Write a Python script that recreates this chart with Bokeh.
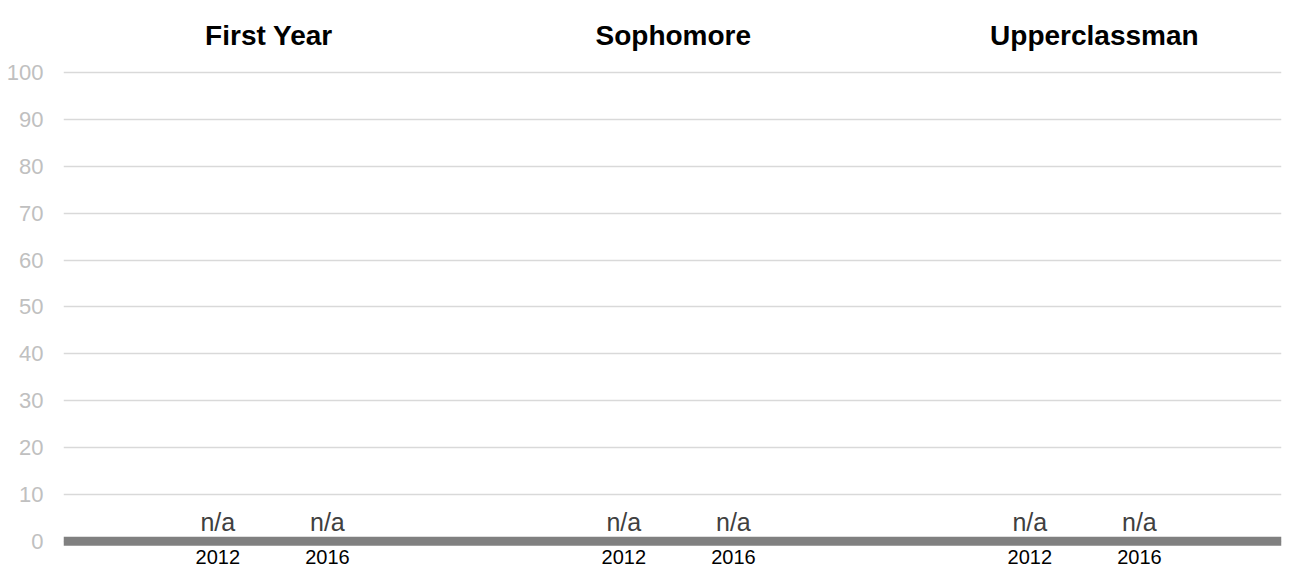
from bokeh.plotting import figure
from bokeh.models import Range1d, FixedTicker, Span
from bokeh.core.properties import value
from bokeh.embed import file_html
from bokeh.resources import INLINE

# ---- data ----
groups = ["First Year", "Sophomore", "Upperclassman"]
years = ["2012", "2016"]
values = [[None, None], [None, None], [None, None]]   # no data -> "n/a"
y_ticks = [0, 10, 20, 30, 40, 50, 60, 70, 80, 90, 100]

# ---- layout helpers (positions within each panel, panel width = 1) ----
year_offsets = [0.38, 0.65]
title_offsets = [0.506, 0.502, 0.539]

lab_x, lab_text, lab_y = [], [], []
yr_x, yr_text = [], []
for gi, g in enumerate(groups):
    for yi, yr in enumerate(years):
        x = gi + year_offsets[yi]
        v = values[gi][yi]
        lab_x.append(x)
        lab_text.append("n/a" if v is None else f"{v}")
        lab_y.append(4.05 if v is None else v + 1)
        yr_x.append(x)
        yr_text.append(yr)

title_x = [gi + title_offsets[gi] for gi in range(len(groups))]

p = figure(width=1283, height=569, output_backend="svg", toolbar_location=None,
           x_range=Range1d(0, 3), y_range=Range1d(-6, 113),
           min_border_left=63, min_border_right=2, min_border_top=11, min_border_bottom=0)
p.outline_line_color = None
p.xaxis.visible = False
p.xgrid.visible = False

p.yaxis.ticker = FixedTicker(ticks=y_ticks)
p.yaxis.axis_line_color = None
p.yaxis.major_tick_line_color = None
p.yaxis.minor_tick_line_color = None
p.yaxis.major_tick_out = 0
p.yaxis.major_label_standoff = 20
p.yaxis.major_label_text_font = "Liberation Sans"
p.yaxis.major_label_text_font_size = "22px"
p.yaxis.major_label_text_color = "#c0c0c0"

p.ygrid.ticker = FixedTicker(ticks=y_ticks)
p.ygrid.grid_line_color = "#d9d9d9"
p.ygrid.grid_line_width = 1.5

p.add_layout(Span(location=0, dimension="width", line_color="#808080", line_width=9))

p.text(x=lab_x, y=lab_y, text=lab_text, text_align="center", text_baseline="alphabetic",
       text_font=value("Liberation Sans"), text_font_size="25px", text_color="#404040")
p.text(x=yr_x, y=[-3.3] * len(yr_x), text=yr_text, text_align="center", text_baseline="middle",
       text_font=value("Liberation Sans"), text_font_size="20px", text_color="#000000")
p.text(x=title_x, y=[107.9] * len(groups), text=groups, text_align="center", text_baseline="alphabetic",
       text_font=value("Liberation Sans"), text_font_size="28px", text_font_style="bold",
       text_color="#000000")

open("out.html", "w").write(file_html(p, INLINE))
